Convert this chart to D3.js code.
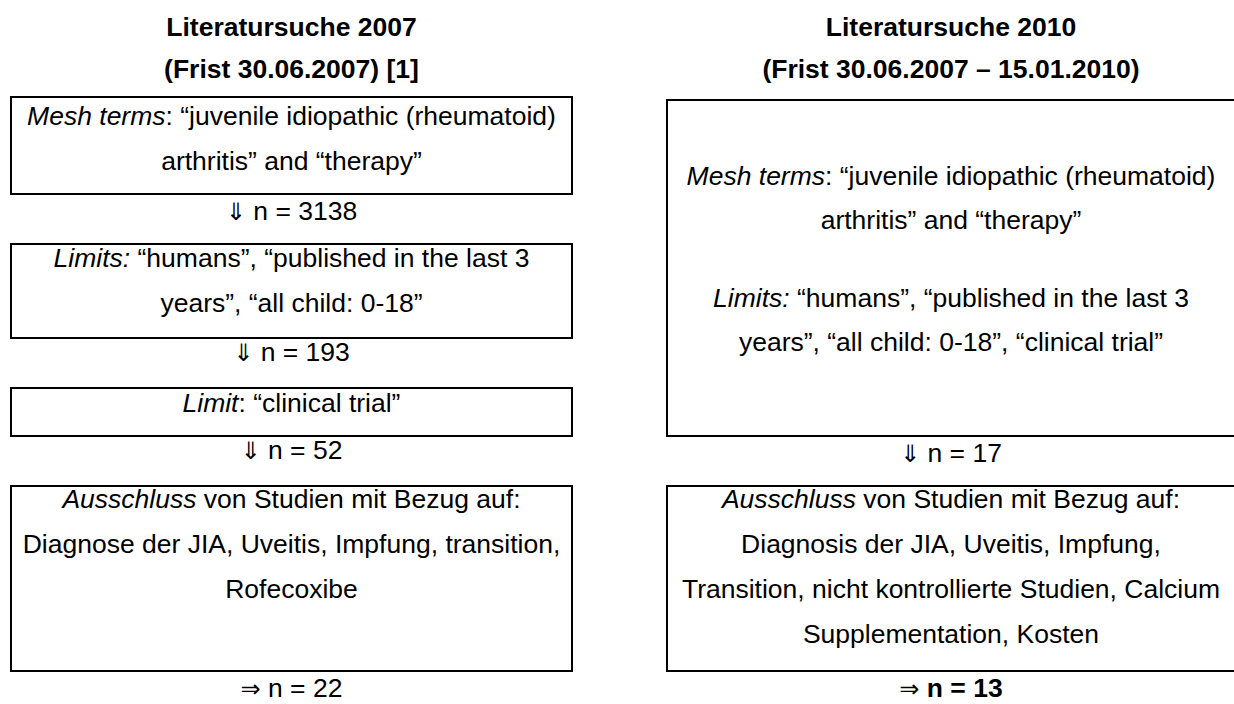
<!DOCTYPE html>
<html>
<head>
<meta charset="utf-8">
<script src="https://cdn.jsdelivr.net/npm/d3@7"></script>
<style>
  body { margin: 0; background: #fff; }
  text { font-family: "Liberation Sans", Arial, sans-serif; fill: #000; }
</style>
</head>
<body>
<div id="chart"></div>
<script>
// titles of the two columns
const titles2007 = ["Literatursuche 2007", "(Frist 30.06.2007) [1]"];
const titles2010 = ["Literatursuche 2010", "(Frist 30.06.2007 \u2013 15.01.2010)"];

// box texts: each line is [italic part, normal part]
const boxes2007 = [
  [["Mesh terms", ": \u201cjuvenile idiopathic (rheumatoid)"], ["", "arthritis\u201d and \u201ctherapy\u201d"]],
  [["Limits:", " \u201chumans\u201d, \u201cpublished in the last 3"], ["", "years\u201d, \u201call child: 0-18\u201d"]],
  [["Limit", ": \u201cclinical trial\u201d"]],
  [["Ausschluss", " von Studien mit Bezug auf:"], ["", "Diagnose der JIA, Uveitis, Impfung, transition,"], ["", "Rofecoxibe"]]
];
const boxes2010 = [
  [["Mesh terms", ": \u201cjuvenile idiopathic (rheumatoid)"], ["", "arthritis\u201d and \u201ctherapy\u201d"],
   ["Limits:", " \u201chumans\u201d, \u201cpublished in the last 3"], ["", "years\u201d, \u201call child: 0-18\u201d, \u201cclinical trial\u201d"]],
  [["Ausschluss", " von Studien mit Bezug auf:"], ["", "Diagnosis der JIA, Uveitis, Impfung,"],
   ["", "Transition, nicht kontrollierte Studien, Calcium"], ["", "Supplementation, Kosten"]]
];

// counts after each step
const counts2007 = [3138, 193, 52, 22];
const counts2010 = [17, 13];

// layout
const W = 1234, H = 704;
const fs = 26.5;

const svg = d3.select("#chart").append("svg")
    .attr("width", W).attr("height", H);

// y positions in pixels (identity scale)
const y = d3.scaleLinear().domain([0, H]).range([0, H]);

function column(cx, x0, x1, titles, boxes, counts, boxY, lineY, arrowY, lastBold) {
    const g = svg.append("g");
    g.selectAll(".title").data(titles).enter().append("text")
        .attr("x", cx).attr("y", (d, i) => y(36 + i * 42))
        .attr("text-anchor", "middle")
        .attr("font-size", fs).attr("font-weight", "bold")
        .text(d => d);

    boxes.forEach((lines, b) => {
        g.append("rect")
            .attr("x", x0).attr("y", y(boxY[b][0]))
            .attr("width", x1 - x0).attr("height", y(boxY[b][1]) - y(boxY[b][0]))
            .attr("fill", "none").attr("stroke", "#000").attr("stroke-width", 2);
        lines.forEach((ln, i) => {
            const t = g.append("text")
                .attr("x", cx).attr("y", y(lineY[b][i]))
                .attr("text-anchor", "middle").attr("font-size", fs);
            if (ln[0]) t.append("tspan").attr("font-style", "italic").text(ln[0]);
            t.append("tspan").text(ln[1]);
        });
    });

    counts.forEach((c, i) => {
        const last = i === counts.length - 1;
        const t = g.append("text")
            .attr("x", cx).attr("y", y(arrowY[i]))
            .attr("text-anchor", "middle").attr("font-size", fs);
        t.append("tspan").attr("font-family", "DejaVu Sans").attr("font-size", 24)
            .text(last ? "\u21d2" : "\u21d3");
        t.append("tspan").attr("font-weight", last && lastBold ? "bold" : null)
            .text(" n = " + c);
    });
}

column(291.5, 11, 572, titles2007, boxes2007, counts2007,
    [[97, 194], [244, 338], [388, 436], [486, 671]],
    [[125, 170], [267, 312], [412], [508, 553, 598]],
    [220, 361, 459, 697], false);

column(951, 667, 1240, titles2010, boxes2010, counts2010,
    [[100, 436], [486, 671]],
    [[185, 229, 307, 351], [508, 553, 598, 643]],
    [462, 697], true);
</script>
</body>
</html>
